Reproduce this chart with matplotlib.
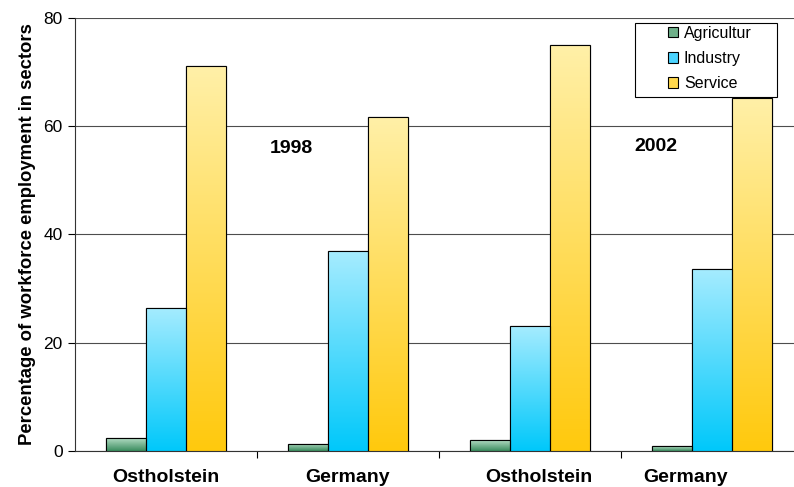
import matplotlib.pyplot as plt
import numpy as np
from matplotlib.colors import LinearSegmentedColormap

plt.rcParams['font.family'] = ['Liberation Sans', 'DejaVu Sans']

# data
regions = ['Ostholstein', 'Germany', 'Ostholstein', 'Germany']
years = ['1998', '2002']
sectors = ['Agricultur', 'Industry', 'Service']
agriculture = [2.4, 1.3, 2.0, 0.9]
industry = [26.5, 36.9, 23.1, 33.7]
service = [71.1, 61.8, 75.0, 65.3]

# gradient (top colour, bottom colour) for each sector
grad = [('#b3dcc4', '#3a8c5e'), ('#a6ecff', '#00c8fa'), ('#fff0a8', '#ffc90d')]
legend_col = ['#6fb08a', '#4cd4ff', '#ffd84d']

W, H = 794, 487
fig = plt.figure(figsize=(W/100, H/100), dpi=100)
ax = fig.add_axes((75/W, 36/H, 728/W, 433/H))

x = np.arange(len(regions))
w = 0.22
series = [agriculture, industry, service]
gimg = np.linspace(1, 0, 256).reshape(-1, 1)
for i, vals in enumerate(series):
    bars = ax.bar(x + (i - 1) * w, vals, w, facecolor=legend_col[i], edgecolor='black',
                  linewidth=0.8, zorder=3, label=sectors[i])
    cmap = LinearSegmentedColormap.from_list('g%d' % i, [grad[i][1], grad[i][0]])
    for b in bars:
        x0, y0 = b.get_x(), b.get_y()
        im = ax.imshow(gimg, cmap=cmap, aspect='auto', zorder=3.5,
                       extent=(x0, x0 + b.get_width(), y0, y0 + b.get_height()))
        im.set_clip_path(b)
        edge = plt.Rectangle((x0, y0), b.get_width(), b.get_height(), fill=False,
                             edgecolor='black', linewidth=0.8, zorder=4)
        ax.add_patch(edge)

ax.set_xlim(-0.5, 3.5)
ax.set_ylim(0, 80)
ax.set_yticks([0, 20, 40, 60, 80])
ax.yaxis.grid(True, color='#4d4d4d', linewidth=0.8, zorder=0)
ax.tick_params(axis='y', labelsize=12.5, length=5, width=0.8, direction='out', pad=4)

# category labels, with Excel's nudges on the last two
ax.set_xticks([0, 1, 2 + 9/182, 3 - 26/182])
ax.set_xticklabels(regions, fontsize=14, fontweight='bold')
ax.tick_params(axis='x', which='major', length=0, pad=13)
ax.set_xticks([0.5, 1.5, 2.5], minor=True)
ax.tick_params(axis='x', which='minor', length=5, width=0.8, direction='out')

for s in ['top', 'right']:
    ax.spines[s].set_visible(False)
for s in ['left', 'bottom']:
    ax.spines[s].set_color('#333333')
    ax.spines[s].set_linewidth(0.8)

ax.set_ylabel('Percentage of workforce employment in sectors', fontsize=13.3,
              fontweight='bold', labelpad=5)

ax.text(0.69, 55.8, years[0], fontsize=14, fontweight='bold', ha='center', va='center')
ax.text(2.69, 56.2, years[1], fontsize=14, fontweight='bold', ha='center', va='center')

# legend: entries without frame, plus a hand-placed box
frame = plt.Rectangle((635/W, 1 - 97/H), 142/W, 74/H, transform=fig.transFigure,
                      facecolor='white', edgecolor='black', linewidth=0.8, zorder=9)
fig.add_artist(frame)
leg = fig.legend(*ax.get_legend_handles_labels(), loc='upper left',
                 bbox_to_anchor=(668/W, 1 - 26/H), bbox_transform=fig.transFigure,
                 fontsize=11.5, frameon=False, handlelength=0.6, handleheight=0.6,
                 handletextpad=0.4, borderpad=0, labelspacing=0.63, borderaxespad=0)
leg.set_zorder(10)

fig.savefig('out.png', dpi=100)
